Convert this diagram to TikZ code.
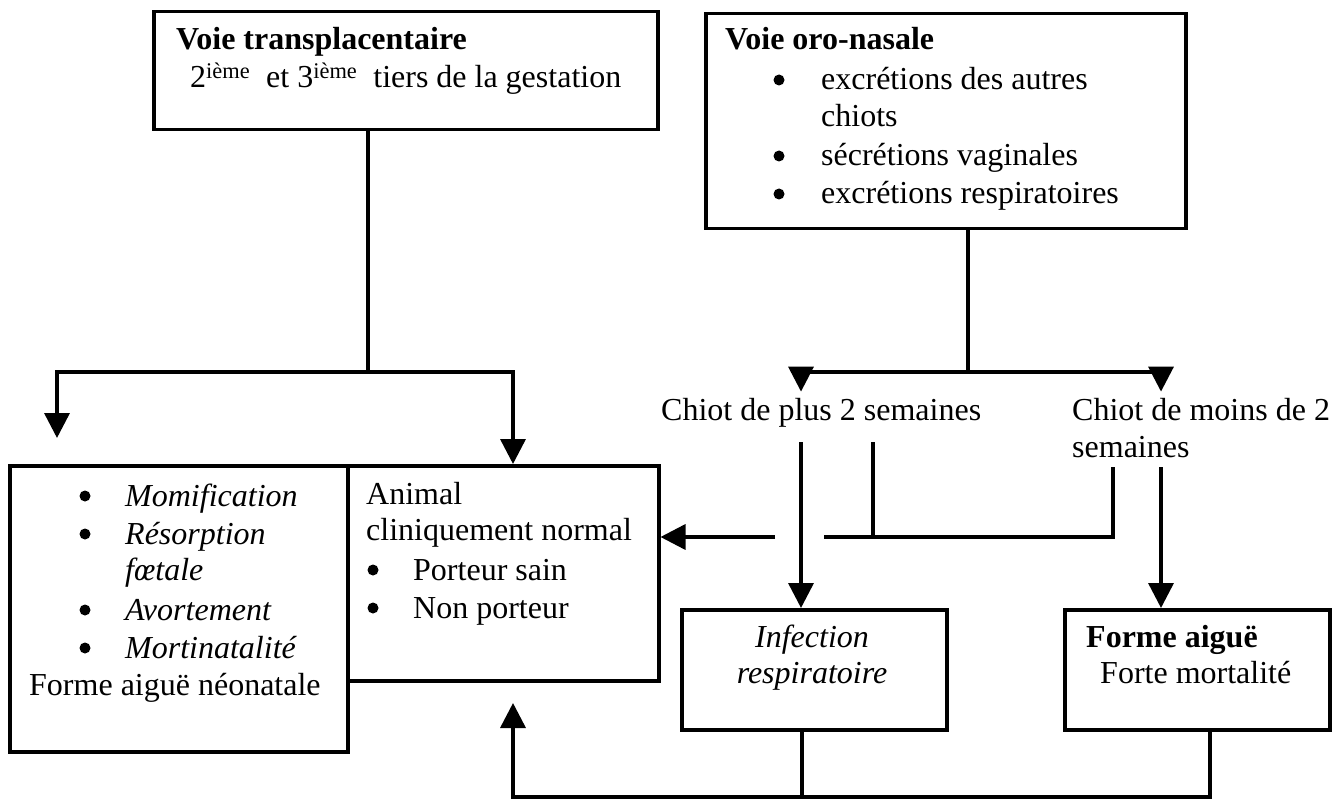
\documentclass[tikz,border=0pt]{standalone}
\usepackage{fontspec}
\setmainfont{Liberation Serif}
\usetikzlibrary{arrows.meta}
\begin{document}
\begin{tikzpicture}[x=1pt,y=-1pt,
  box/.style={draw,line width=3.5pt,inner sep=0pt,anchor=north west},
  txt/.style={anchor=base west,inner sep=0pt,font=\fontsize{32}{38}\selectfont},
  ctxt/.style={anchor=base,inner sep=0pt,font=\fontsize{32}{38}\selectfont},
  itxt/.style={txt,font=\fontsize{32}{38}\selectfont\itshape},
  btxt/.style={txt,font=\fontsize{32}{38}\selectfont\bfseries},
  bul/.style={circle,fill,inner sep=0pt,minimum size=11pt},
  conn/.style={line width=3.5pt},
  arr/.style={conn,-{Triangle[length=25pt,width=25pt]}},
]
\useasboundingbox (0,0) rectangle (1338,799);
% boxes
\node[box,minimum width=504pt,minimum height=118pt] (A) at (152,10) {};
\node[box,minimum width=480pt,minimum height=215pt] (B) at (704,12) {};
\node[box,minimum width=338pt,minimum height=286pt] (C) at (8,464) {};
\node[box,minimum width=311pt,minimum height=215pt] (D) at (346,464) {};
\node[box,minimum width=265pt,minimum height=120pt] (E) at (680,608) {};
\node[box,minimum width=265pt,minimum height=120pt] (F) at (1063,608) {};
% texts box A
\node[btxt] (At1) at (176,50) {Voie transplacentaire};
\node[txt] (At2) at (190,88) {2\textsuperscript{ième}\ \ et 3\textsuperscript{ième}\ \ tiers de la gestation};
% box B
\node[btxt] (Bt1) at (725,50) {Voie oro-nasale};
\node[bul] (Bb1) at (779,80) {};
\node[txt] (Bt2) at (821,90) {excrétions des autres};
\node[txt] (Bt3) at (821,127) {chiots};
\node[bul] (Bb2) at (779,156) {};
\node[txt] (Bt4) at (821,166) {sécrétions vaginales};
\node[bul] (Bb3) at (779,194) {};
\node[txt] (Bt5) at (821,204) {excrétions respiratoires};
% box C
\node[bul] (Cb1) at (85,496) {};
\node[itxt] (Ct1) at (125,506) {Momification};
\node[bul] (Cb2) at (85,534) {};
\node[itxt] (Ct2) at (125,544) {Résorption};
\node[itxt] (Ct3) at (125,580) {fœtale};
\node[bul] (Cb3) at (85,610) {};
\node[itxt] (Ct4) at (125,620) {Avortement};
\node[bul] (Cb4) at (85,648) {};
\node[itxt] (Ct5) at (125,658) {Mortinatalité};
\node[txt] (Ct6) at (29,695) {Forme aiguë néonatale};
% box D
\node[txt] (Dt1) at (366,504) {Animal};
\node[txt] (Dt2) at (366,540) {cliniquement normal};
\node[bul] (Db1) at (373,570) {};
\node[txt] (Dt3) at (413,580) {Porteur sain};
\node[bul] (Db2) at (373,608) {};
\node[txt] (Dt4) at (413,618) {Non porteur};
% chiot labels
\node[txt,inner ysep=6pt] (P) at (661,420) {Chiot de plus 2 semaines};
\node[txt,inner ysep=6pt] (M) at (1072,420) {Chiot de moins de 2};
\node[txt] (M2) at (1072,457) {semaines};
% box E, F
\node[ctxt,font=\fontsize{32}{38}\selectfont\itshape] (Et1) at (812,647) {Infection};
\node[ctxt,font=\fontsize{32}{38}\selectfont\itshape] (Et2) at (812,683) {respiratoire};
\node[btxt] (Ft1) at (1086,647) {Forme aiguë};
\node[txt] (Ft2) at (1100,683) {Forte mortalité};
% junctions
\coordinate (jA) at (368,372);
\coordinate (jL) at (57,372);
\coordinate (tipL) at (57,438);
\coordinate (jR) at (513,372);
\coordinate (jB) at (968,372);
\coordinate (jP) at (801,372);
\coordinate (jM) at (1161,372);
\coordinate (p1) at (801,442);
\coordinate (p2) at (873,442);
\coordinate (p3) at (873,537);
\coordinate (p4) at (775,537);
\coordinate (p5) at (824,537);
\coordinate (m1) at (1113,467);
\coordinate (m2) at (1113,537);
\coordinate (m3) at (1161,467);
\coordinate (b1) at (802,797);
\coordinate (b2) at (1210,797);
\coordinate (b3) at (513,797);
\coordinate (tipU) at (513,703);
% connectors
\draw[conn] (A.south -| jA) -- (jA);
\draw[arr] (jA) -- (jL) -- (tipL);
\draw[arr] (jA) -- (jR) -- (D.north -| jR);
\draw[conn] (B.south -| jB) -- (jB);
\draw[conn] (jP) -- (jM);
\draw[arr] (jP) -- (jP |- P.north);
\draw[arr] (jM) -- (jM |- M.north);
\draw[arr] (p1) -- (E.north -| p1);
\draw[conn] (p2) -- (p3);
\draw[conn] (p5) -- (m2) -- (m1);
\draw[arr] (p4) -- (D.east |- p4);
\draw[arr] (m3) -- (F.north -| m3);
\draw[conn] (E.south -| b1) -- (b1);
\draw[arr] (F.south -| b2) -- (b2) -- (b3) -- (tipU);
\end{tikzpicture}
\end{document}
